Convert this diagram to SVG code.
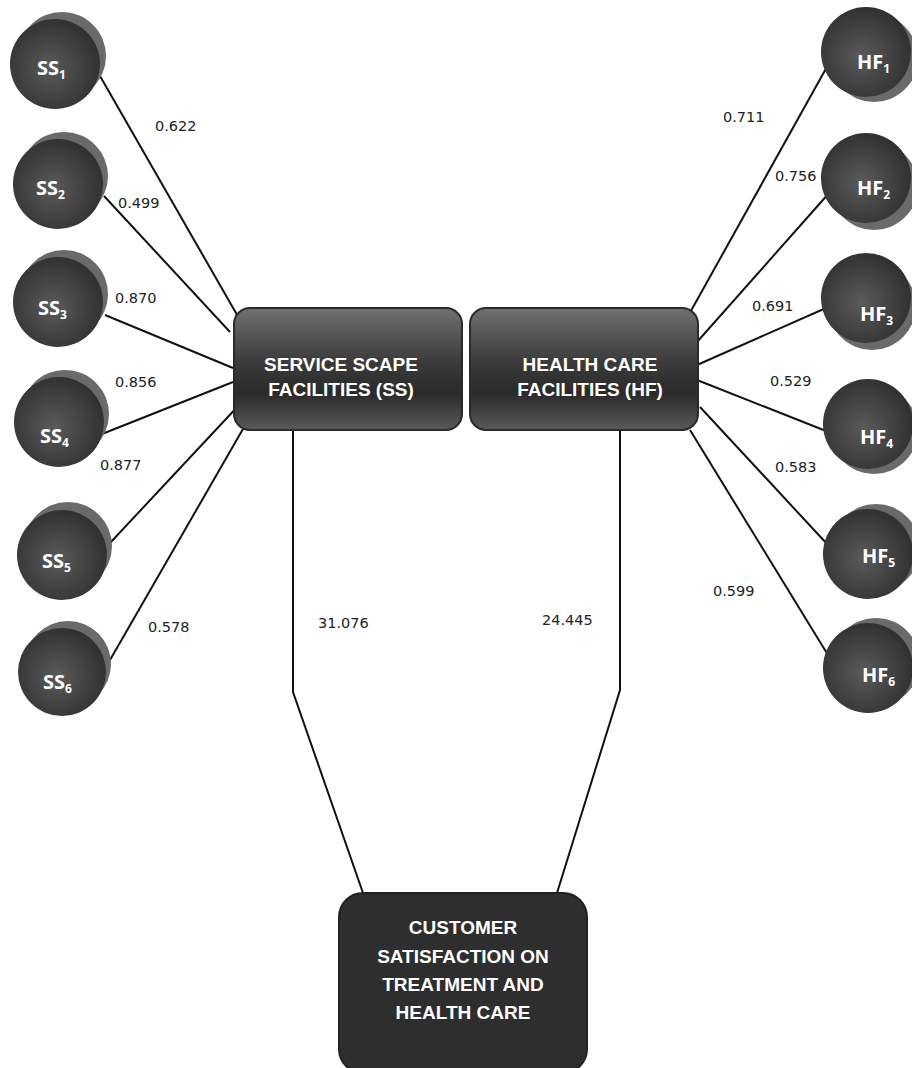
<svg xmlns="http://www.w3.org/2000/svg" width="912" height="1068" viewBox="0 0 912 1068">
<defs>
<radialGradient id="cg" cx="0.45" cy="0.55" r="0.6">
<stop offset="0" stop-color="#5a5a5a"/>
<stop offset="1" stop-color="#2e2e2e"/>
</radialGradient>
<linearGradient id="bg" x1="0" y1="0" x2="0" y2="1">
<stop offset="0" stop-color="#707070"/>
<stop offset="0.45" stop-color="#3a3a3a"/>
<stop offset="0.7" stop-color="#2a2a2a"/>
<stop offset="1" stop-color="#5a5a5a"/>
</linearGradient>
<style>
.shadow{fill:#6a6a6a}
.circ{fill:url(#cg)}
.box{fill:url(#bg);stroke:#2a2a2a;stroke-width:2}
.cbox{fill:#2e2e2e;stroke:#222;stroke-width:2}
.lbl{font-family:"Open Sans","Liberation Sans",sans-serif;font-weight:bold;fill:#ffffff;font-size:20px}
.sub{font-size:12px}
.btxt{font-family:"Liberation Sans","Open Sans",sans-serif;font-weight:bold;fill:#ffffff;font-size:19px;text-anchor:middle}
.num{font-family:"DejaVu Sans",Verdana,sans-serif;font-size:14.5px;fill:#222}
.ln{stroke:#111;stroke-width:2;fill:none}
</style>
</defs>
<rect width="912" height="1068" fill="#ffffff"/>

<g id="connectors">
<line class="ln" x1="100" y1="76" x2="240" y2="320"/>
<line class="ln" x1="104" y1="196" x2="230" y2="332"/>
<line class="ln" x1="105" y1="315" x2="233" y2="368"/>
<line class="ln" x1="102" y1="434" x2="233" y2="382"/>
<line class="ln" x1="110" y1="543" x2="240" y2="404"/>
<line class="ln" x1="110" y1="660" x2="247" y2="422"/>
<line class="ln" x1="828" y1="65" x2="687" y2="318"/>
<line class="ln" x1="830" y1="192" x2="697" y2="342"/>
<line class="ln" x1="826" y1="308" x2="697" y2="365"/>
<line class="ln" x1="826" y1="431" x2="697" y2="380"/>
<line class="ln" x1="828" y1="545" x2="700" y2="407"/>
<line class="ln" x1="828" y1="655" x2="690" y2="430"/>
<polyline class="ln" points="293,430 293,692 363,893"/>
<polyline class="ln" points="620,430 620,690 557,893"/>
</g>

<g id="labels">
<text class="num" x="155" y="131">0.622</text>
<text class="num" x="118" y="208">0.499</text>
<text class="num" x="115" y="303">0.870</text>
<text class="num" x="115" y="387">0.856</text>
<text class="num" x="100" y="470">0.877</text>
<text class="num" x="148" y="632">0.578</text>
<text class="num" x="318" y="628">31.076</text>
<text class="num" x="542" y="625">24.445</text>
<text class="num" x="723" y="122">0.711</text>
<text class="num" x="775" y="181">0.756</text>
<text class="num" x="752" y="311">0.691</text>
<text class="num" x="770" y="386">0.529</text>
<text class="num" x="775" y="472">0.583</text>
<text class="num" x="713" y="596">0.599</text>
</g>

<g id="SS1"><circle class="shadow" cx="62" cy="56" r="44"/><circle class="circ" cx="55" cy="64" r="45"/><text class="lbl" x="37" y="75">SS<tspan class="sub" dy="4">1</tspan></text></g>
<g id="SS2"><circle class="shadow" cx="64" cy="176" r="44"/><circle class="circ" cx="58" cy="184" r="45"/><text class="lbl" x="36" y="195">SS<tspan class="sub" dy="4">2</tspan></text></g>
<g id="SS3"><circle class="shadow" cx="64" cy="294" r="44"/><circle class="circ" cx="58" cy="302" r="45"/><text class="lbl" x="38" y="315">SS<tspan class="sub" dy="4">3</tspan></text></g>
<g id="SS4"><circle class="shadow" cx="65" cy="414" r="44"/><circle class="circ" cx="59" cy="422" r="45"/><text class="lbl" x="40" y="443">SS<tspan class="sub" dy="4">4</tspan></text></g>
<g id="SS5"><circle class="shadow" cx="68" cy="546" r="44"/><circle class="circ" cx="62" cy="555" r="45"/><text class="lbl" x="42" y="568">SS<tspan class="sub" dy="4">5</tspan></text></g>
<g id="SS6"><circle class="shadow" cx="68" cy="664" r="43"/><circle class="circ" cx="62" cy="672" r="44"/><text class="lbl" x="43" y="689">SS<tspan class="sub" dy="4">6</tspan></text></g>

<g id="HF1"><circle class="shadow" cx="874" cy="58" r="44"/><circle class="circ" cx="866" cy="52" r="45"/><text class="lbl" x="857" y="69">HF<tspan class="sub" dy="4">1</tspan></text></g>
<g id="HF2"><circle class="shadow" cx="874" cy="186" r="44"/><circle class="circ" cx="866" cy="178" r="45"/><text class="lbl" x="857" y="195">HF<tspan class="sub" dy="4">2</tspan></text></g>
<g id="HF3"><circle class="shadow" cx="872" cy="306" r="44"/><circle class="circ" cx="866" cy="298" r="45"/><text class="lbl" x="860" y="321">HF<tspan class="sub" dy="4">3</tspan></text></g>
<g id="HF4"><circle class="shadow" cx="874" cy="430" r="44"/><circle class="circ" cx="868" cy="424" r="45"/><text class="lbl" x="860" y="444">HF<tspan class="sub" dy="4">4</tspan></text></g>
<g id="HF5"><circle class="shadow" cx="876" cy="548" r="44"/><circle class="circ" cx="868" cy="554" r="45"/><text class="lbl" x="862" y="563">HF<tspan class="sub" dy="4">5</tspan></text></g>
<g id="HF6"><circle class="shadow" cx="876" cy="662" r="44"/><circle class="circ" cx="868" cy="668" r="45"/><text class="lbl" x="862" y="682">HF<tspan class="sub" dy="4">6</tspan></text></g>

<g id="SS"><rect class="box" x="234" y="308" width="228" height="122" rx="16"/><text class="btxt" x="341" y="371">SERVICE SCAPE</text><text class="btxt" x="341" y="396">FACILITIES (SS)</text></g>
<g id="HF"><rect class="box" x="470" y="308" width="228" height="122" rx="16"/><text class="btxt" x="590" y="371">HEALTH CARE</text><text class="btxt" x="590" y="396">FACILITIES (HF)</text></g>
<g id="CS"><rect class="cbox" x="339" y="893" width="248" height="180" rx="24"/><text class="btxt" x="463" y="934">CUSTOMER</text><text class="btxt" x="463" y="963">SATISFACTION ON</text><text class="btxt" x="463" y="991">TREATMENT AND</text><text class="btxt" x="463" y="1019">HEALTH CARE</text></g>
</svg>
